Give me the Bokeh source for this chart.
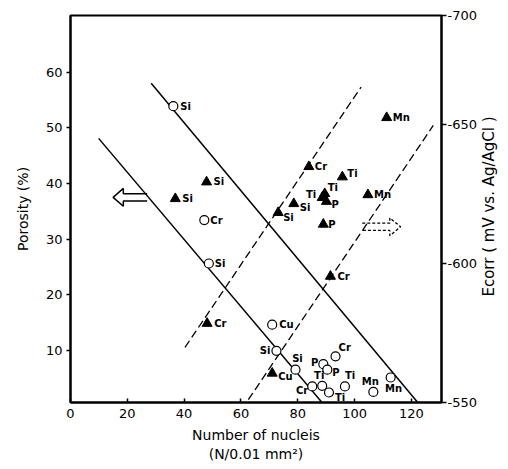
import math
from bokeh.plotting import figure
from bokeh.models import Range1d, LinearAxis, FixedTicker, ColumnDataSource, Label
from bokeh.core.properties import value
from bokeh.embed import file_html
from bokeh.resources import INLINE

# ---------------- data ----------------
# open circles: porosity (%) vs number of nuclei
circ_x = [36.2, 47.1, 48.7, 71.0, 72.5, 79.2, 89.0, 90.4, 93.3, 85.1, 88.6, 91.0, 96.6, 106.6, 112.7]
circ_por = [53.9, 33.4, 25.6, 14.6, 9.9, 6.5, 7.5, 6.5, 8.9, 3.5, 3.6, 2.4, 3.5, 2.5, 5.1]
circ_lab = ["Si", "Cr", "Si", "Cu", "Si", "Si", "P", "P", "Cr", "Cr", "Ti", "Ti", "Ti", "Mn", "Mn"]

# solid triangles: Ecorr (mV vs. Ag/AgCl) vs number of nuclei
tri_x = [36.9, 47.9, 48.1, 71.0, 73.1, 78.6, 83.9, 88.6, 89.5, 90.1, 89.0, 95.7, 104.7, 111.3, 91.5]
tri_e = [-623.2, -629.2, -578.4, -560.5, -618.2, -621.4, -634.7, -623.6, -625.0, -622.2, -614.0,
         -631.0, -624.6, -652.3, -595.3]
tri_lab = ["Si", "Si", "Cr", "Cu", "Si", "Si", "Cr", "Ti", "Ti", "P", "P", "Ti", "Mn", "Mn", "Cr"]

# regression lines
por_line_x = [[9.9, 88.4], [28.4, 122.1]]
por_line_y = [[48.1, 0.7], [58.0, 0.7]]
e_line_x = [[40.3, 102.3], [62.6, 127.7]]
e_line_y = [[-569.8, -663.3], [-551.0, -649.5]]

# ticks
x_ticks = [0, 20, 40, 60, 80, 100, 120]
por_ticks = [10, 20, 30, 40, 50, 60]
e_ticks = [-550, -600, -650, -689]
e_tick_labels = ["-550", "-600", "-650", "-700"]

# ---------------- label placement (layout only) ----------------
circ_dx = [7, 6, 6, 7, -6, 2, -5, 5, 3, -4, -3, 6, 0, -3, 3]
circ_dy = [0, 0, 0, 0, 0, -11, -2, 3, -9, 4, -10, 5, -11, -10, 11]
circ_al = ["left", "left", "left", "left", "right", "center", "right", "left", "left", "right",
           "center", "left", "left", "center", "center"]
tri_dx = [7, 7, 7, 6, 5, 6, 6, -6, 3, 5, 5, 5, 6, 6, 7]
tri_dy = [0, 0, 0, 3, 5, 4, 0, -3, -6, 3, 0, -3, 0, 0, 0]
tri_al = ["left"] * 7 + ["right"] + ["left"] * 7

FONT = "DejaVu Sans"

p = figure(width=508, height=469,
           x_range=Range1d(0, 130.6), y_range=Range1d(0.6, 70.2),
           output_backend="svg", toolbar_location=None,
           min_border_left=70, min_border_right=67, min_border_top=15, min_border_bottom=67,
           background_fill_color="white", border_fill_color="white")
p.extra_y_ranges = {"ecorr": Range1d(start=-550, end=-689)}

p.xgrid.visible = False
p.ygrid.visible = False
p.outline_line_color = "black"
p.outline_line_width = 2

# bottom axis
xa = p.xaxis[0]
xa.ticker = FixedTicker(ticks=x_ticks)
xa.major_tick_in = 4
xa.major_tick_out = 0
xa.minor_tick_line_color = None
xa.axis_line_width = 2
xa.major_tick_line_width = 1.5
xa.major_label_text_font = FONT
xa.major_label_text_font_size = "13px"
xa.major_label_text_color = "black"
xa.major_label_standoff = 6
xa.axis_label = "Number of nucleis\n(N/0.01 mm²)"
xa.axis_label_text_font = FONT
xa.axis_label_text_font_size = "14px"
xa.axis_label_text_font_style = "normal"
xa.axis_label_text_color = "black"
xa.axis_label_standoff = 6

# left axis
ya = p.yaxis[0]
ya.ticker = FixedTicker(ticks=por_ticks)
ya.major_tick_in = 0
ya.major_tick_out = 4
ya.minor_tick_line_color = None
ya.axis_line_width = 2
ya.major_tick_line_width = 1.5
ya.major_label_text_font = FONT
ya.major_label_text_font_size = "13px"
ya.major_label_text_color = "black"
ya.major_label_standoff = 4
ya.axis_label = "Porosity (%)"
ya.axis_label_text_font = FONT
ya.axis_label_text_font_size = "14px"
ya.axis_label_text_font_style = "normal"
ya.axis_label_text_color = "black"
ya.axis_label_standoff = 12

# right axis (label drawn separately so it reads bottom-to-top)
ra = LinearAxis(y_range_name="ecorr",
                ticker=FixedTicker(ticks=e_ticks),
                major_label_overrides={t: l for t, l in zip(e_ticks, e_tick_labels)})
ra.major_tick_in = 0
ra.major_tick_out = 5
ra.minor_tick_line_color = None
ra.axis_line_width = 2
ra.major_tick_line_width = 1.5
ra.major_label_text_font = FONT
ra.major_label_text_font_size = "13px"
ra.major_label_text_color = "black"
ra.major_label_standoff = 1
p.add_layout(ra, "right")

ecorr_label = Label(x=8, y=196, x_units="screen", y_units="screen",
                    text="Ecorr ( mV vs. Ag/AgCl )", angle=math.pi / 2,
                    text_align="center", text_baseline="middle",
                    text_font=FONT, text_font_size="15px", text_color="black")
p.add_layout(ecorr_label, "right")

# regression lines
p.multi_line(por_line_x, por_line_y, line_color="black", line_width=1.5)
p.multi_line(e_line_x, e_line_y, line_color="black", line_width=1.3, line_dash="8 4",
             y_range_name="ecorr")

# block arrows (hollow outline), positions in data units
def block_arrow(tail_x, tip_x, yc, head_len, head_half, shaft_half):
    d = 1 if tip_x > tail_x else -1
    hb = tip_x - d * head_len
    xs = [tail_x, hb, hb, tip_x, hb, hb, tail_x]
    ys = [yc + shaft_half, yc + shaft_half, yc + head_half, yc, yc - head_half, yc - shaft_half, yc - shaft_half]
    return xs, ys

ax1, ay1 = block_arrow(27.0, 15.0, 37.5, 3.6, 1.6, 0.65)
p.line(ax1, ay1, line_color="black", line_width=1.5)
ax2, ay2 = block_arrow(102.7, 116.2, 32.2, 3.8, 1.6, 0.65)
p.line(ax2, ay2, line_color="black", line_width=1.3, line_dash="3 2")

# markers
cs = ColumnDataSource(dict(x=circ_x, y=circ_por, lab=circ_lab, dx=circ_dx, dy=circ_dy, al=circ_al))
ts = ColumnDataSource(dict(x=tri_x, y=tri_e, lab=tri_lab, dx=tri_dx, dy=tri_dy, al=tri_al))

p.scatter("x", "y", source=cs, marker="circle", size=9, fill_color="white",
          line_color="black", line_width=1.2)
p.scatter("x", "y", source=ts, marker="triangle", size=10, fill_color="black",
          line_color="black", y_range_name="ecorr")

p.text("x", "y", text="lab", source=cs, x_offset="dx", y_offset="dy", text_align="al",
       text_baseline="middle", text_font=value(FONT), text_font_size="10px",
       text_font_style="bold", text_color="black")
p.text("x", "y", text="lab", source=ts, x_offset="dx", y_offset="dy", text_align="al",
       text_baseline="middle", text_font=value(FONT), text_font_size="10px",
       text_font_style="bold", text_color="black", y_range_name="ecorr")

open("out.html", "w").write(file_html(p, INLINE))
